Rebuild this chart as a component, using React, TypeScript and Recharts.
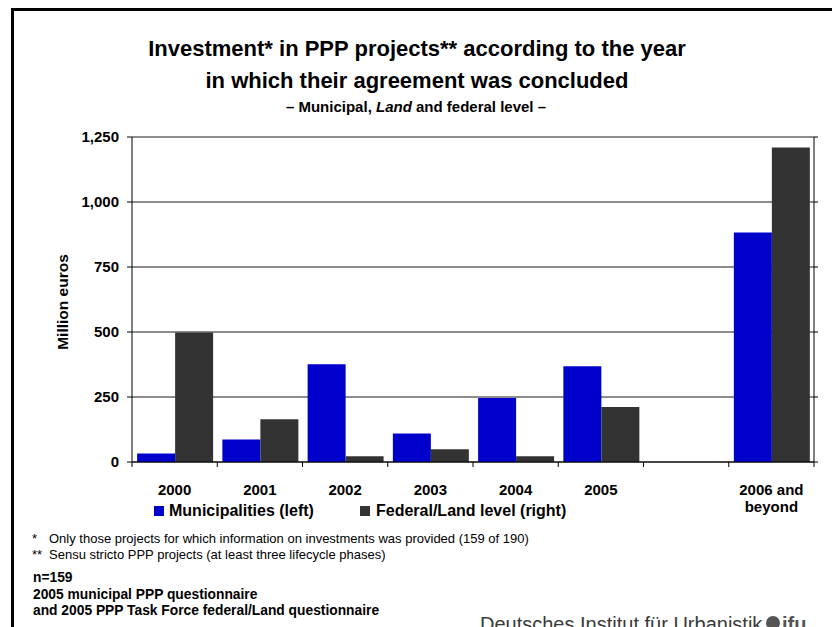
import { BarChart, Bar, XAxis, YAxis, CartesianGrid } from "recharts";

const categories = ["2000", "2001", "2002", "2003", "2004", "2005", "", "2006 and beyond"];
const municipalities = [33, 87, 376, 110, 246, 368, null, 883];
const federalLand = [498, 164, 22, 49, 22, 212, null, 1210];
const yTicks = [0, 250, 500, 750, 1000, 1250];

const data = categories.map((cat, i) => ({
  cat,
  municipalities: municipalities[i],
  federalLand: federalLand[i],
}));

const FONT = '"Liberation Sans", Arial, Helvetica, sans-serif';
const BLUE = "#0000cc";
const DARK = "#333333";

const XTick = ({ x, y, payload }: any) => {
  const half = payload.offset ?? 42.6;
  const last = payload.index === categories.length - 1;
  const lines = payload.value === "2006 and beyond" ? ["2006 and", "beyond"] : [payload.value];
  return (
    <g>
      <line x1={x - half} x2={x - half} y1={y} y2={y + 5} stroke="#000" />
      {last && <line x1={x + half} x2={x + half} y1={y} y2={y + 5} stroke="#000" />}
      {lines.map((t: string, i: number) => (
        <text key={i} x={x} y={y + 33 + i * 17} textAnchor="middle" fontSize={15} fontWeight="bold" fill="#000" fontFamily={FONT}>
          {t}
        </text>
      ))}
    </g>
  );
};

export default function App() {
  return (
    <div style={{ position: "absolute", left: 0, top: 0, width: 832, height: 627, overflow: "hidden", background: "#fff", fontFamily: FONT }}>
      <div style={{ position: "absolute", left: 11, top: 8, width: 840, height: 640, borderTop: "3px solid #000", borderLeft: "3px solid #000" }} />
      <div style={{ position: "absolute", left: 0, top: 0 }}>
        <BarChart
          width={832}
          height={627}
          data={data}
          margin={{ top: 137, right: 8, bottom: 125, left: 72 }}
          barCategoryGap="6%"
          barGap={0}
        >
          <CartesianGrid yAxisId="left" vertical={false} stroke="#1a1a1a" />
          <XAxis
            dataKey="cat"
            height={40}
            tickSize={0}
            tickMargin={0}
            tickLine={false}
            axisLine={{ stroke: "#000" }}
            tick={<XTick />}
            interval={0}
          />
          <YAxis
            yAxisId="left"
            domain={[0, 1250]}
            ticks={yTicks}
            width={60}
            tickSize={5}
            tickMargin={8}
            tickLine={{ stroke: "#000" }}
            axisLine={{ stroke: "#000" }}
            tickFormatter={(v: number) => v.toLocaleString("en-US")}
            tick={{ fontSize: 15, fontWeight: "bold", fill: "#000", fontFamily: FONT }}
          />
          <YAxis
            yAxisId="right"
            orientation="right"
            domain={[0, 1250]}
            ticks={yTicks}
            width={10}
            tickSize={4}
            tickLine={{ stroke: "#000" }}
            axisLine={{ stroke: "#000" }}
            tickFormatter={() => ""}
          />
          <Bar yAxisId="left" dataKey="municipalities" name="Municipalities (left)" fill={BLUE} isAnimationActive={false} />
          <Bar yAxisId="right" dataKey="federalLand" name="Federal/Land level (right)" fill={DARK} isAnimationActive={false} />
        </BarChart>
      </div>
      <svg width={832} height={627} style={{ position: "absolute", left: 0, top: 0, pointerEvents: "none" }} fontFamily={FONT}>
        <text x={417} y={56} textAnchor="middle" fontSize={22} fontWeight="bold">Investment* in PPP projects** according to the year</text>
        <text x={417} y={88} textAnchor="middle" fontSize={22} fontWeight="bold">in which their agreement was concluded</text>
        <text x={416} y={112} textAnchor="middle" fontSize={15} fontWeight="bold">
          – Municipal, <tspan fontStyle="italic">Land</tspan> and federal level –
        </text>
        <text x={67.5} y={302} transform="rotate(-90 67.5 302)" textAnchor="middle" fontSize={15.5} fontWeight="bold">Million euros</text>

        <rect x={154} y={506} width={10} height={10} fill={BLUE} />
        <text x={169} y={516} fontSize={16} fontWeight="bold">Municipalities (left)</text>
        <rect x={360} y={506} width={10} height={10} fill={DARK} />
        <text x={376} y={516} fontSize={16} fontWeight="bold">Federal/Land level (right)</text>

        <text x={32} y={543} fontSize={13}>*</text>
        <text x={49} y={543} fontSize={13}>Only those projects for which information on investments was provided (159 of 190)</text>
        <text x={32} y={559} fontSize={13}>**</text>
        <text x={49} y={559} fontSize={13}>Sensu stricto PPP projects (at least three lifecycle phases)</text>
        <text x={33} y={582} fontSize={13.8} fontWeight="bold">n=159</text>
        <text x={33} y={599} fontSize={13.8} fontWeight="bold">2005 municipal PPP questionnaire</text>
        <text x={33} y={615} fontSize={13.8} fontWeight="bold">and 2005 PPP Task Force federal/Land questionnaire</text>

        <text x={480} y={631} fontSize={20} fill="#3a3a3a">Deutsches Institut für Urbanistik</text>
        <circle cx={773} cy={623} r={7} fill="#555" />
        <text x={782} y={631} fontSize={20} fontWeight="bold" fill="#555">ifu</text>
      </svg>
    </div>
  );
}
